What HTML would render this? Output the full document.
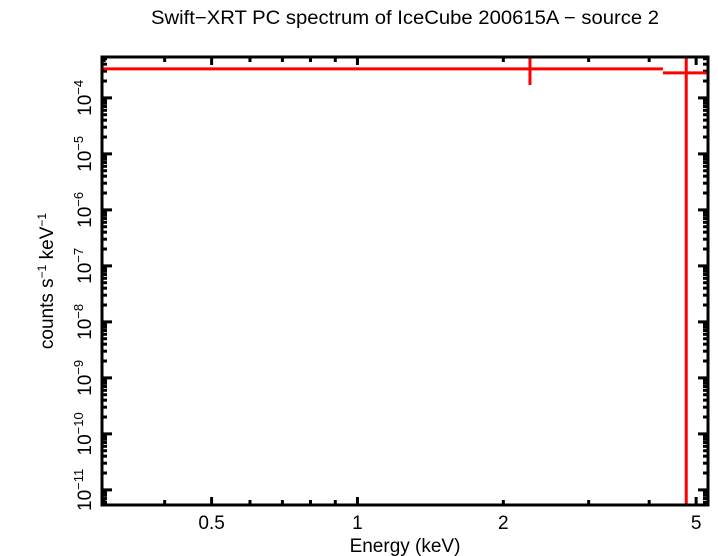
<!DOCTYPE html>
<html><head><meta charset="utf-8"><style>
html,body{margin:0;padding:0;background:#fff}
svg{display:block;font-family:"Liberation Sans",sans-serif}
</style></head><body>
<svg id="chart" width="718" height="556" viewBox="0 0 718 556" xmlns="http://www.w3.org/2000/svg">
<text x="405" y="24" text-anchor="middle" font-size="19" textLength="508" lengthAdjust="spacingAndGlyphs">Swift−XRT PC spectrum of IceCube 200615A − source 2</text>
<text x="405" y="552" text-anchor="middle" font-size="19">Energy (keV)</text>
<text transform="translate(53,281) rotate(-90)" text-anchor="middle" font-size="19">counts s<tspan dy="-7" font-size="12">−1</tspan><tspan dy="7"> keV</tspan><tspan dy="-7" font-size="12">−1</tspan></text>
<g id="ticks"></g>
<g id="data"></g>
<rect x="102" y="57" width="606" height="448" fill="none" stroke="#000" stroke-width="3"/>
</svg>
<script>
const xTickLabels = [0.5, 1, 2, 5];
const yDecades = [-11, -10, -9, -8, -7, -6, -5, -4];
const binLo = [0.297, 4.27];
const binHi = [4.27, 5.29];
const binCenter = [2.27, 4.77];
const rate = [3.3e-4, 2.8e-4];
const rateLo = [1.7e-4, 1e-12];
const rateHi = [1e-3, 1e-3];

const L=102,R=708,T=57,B=505;
const xMin=Math.log10(0.297), xMax=Math.log10(5.29);
const yMin=-11.27, yMax=-3.27;
const X=v=>L+(Math.log10(v)-xMin)/(xMax-xMin)*(R-L);
const Y=v=>{let y=B-(Math.log10(v)-yMin)/(yMax-yMin)*(B-T);return Math.max(T,Math.min(B,y));};
const NS="http://www.w3.org/2000/svg";
const tg=document.getElementById('ticks'), dg=document.getElementById('data');
function line(g,x1,y1,x2,y2,c,w){const l=document.createElementNS(NS,'line');l.setAttribute('x1',x1);l.setAttribute('y1',y1);l.setAttribute('x2',x2);l.setAttribute('y2',y2);l.setAttribute('stroke',c);l.setAttribute('stroke-width',w);g.appendChild(l);return l;}
const xt=[0.3,0.4,0.5,0.6,0.7,0.8,0.9,1,2,3,4,5];
xt.forEach(v=>{const x=X(v);if(x<L||x>R)return;const len=(v===1||v===0.5||v===5)?8:5;
 let a=line(tg,x,B,x,B-len,'#000',3);
 let b=line(tg,x,T,x,T+len,'#000',3);});
xTickLabels.forEach(v=>{const t=document.createElementNS(NS,'text');t.setAttribute('x',X(v));t.setAttribute('y',529);t.setAttribute('text-anchor','middle');t.setAttribute('font-size','19');t.textContent=String(v);
 
 
 tg.appendChild(t);});
for(let d=-12;d<=-3;d++){for(let m=1;m<=9;m++){const v=m*Math.pow(10,d);const lv=Math.log10(v);if(lv<yMin||lv>yMax)continue;const y=Y(v);const len=m===1?10:5;
 let a=line(tg,L,y,L+len,y,'#000',3);
 let b=line(tg,R,y,R-len,y,'#000',3);}}
yDecades.forEach(d=>{const y=Y(Math.pow(10,d));const t=document.createElementNS(NS,'text');t.setAttribute('transform','translate(91,'+y+') rotate(-90)');t.setAttribute('text-anchor','middle');t.setAttribute('font-size','19');
 t.innerHTML='10<tspan dy="-8" font-size="13">−'+(-d)+'</tspan>';
 
 
 tg.appendChild(t);});
rate.forEach((r,i)=>{const g=document.createElementNS(NS,'g');
 
 
 line(g,X(binLo[i]),Y(r),X(binHi[i]),Y(r),'#f00',3);
 line(g,X(binCenter[i]),Y(rateLo[i]),X(binCenter[i]),Y(rateHi[i]),'#f00',3);
 dg.appendChild(g);});
</script>
</body></html>
